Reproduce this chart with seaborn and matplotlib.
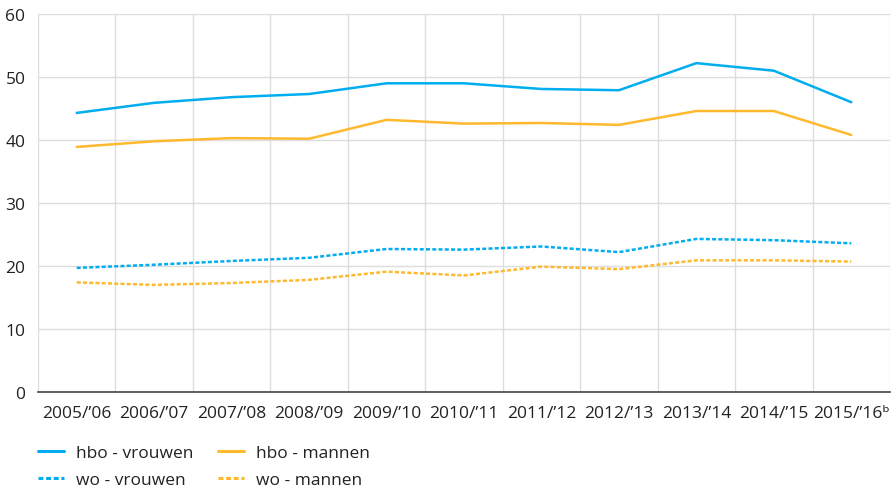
import numpy as np
import pandas as pd
import matplotlib
matplotlib.use("Agg")
import matplotlib.pyplot as plt
import seaborn as sns
from matplotlib.lines import Line2D

years = ["2005/’06", "2006/’07", "2007/’08", "2008/’09", "2009/’10", "2010/’11",
         "2011/’12", "2012/’13", "2013/’14", "2014/’15", "2015/’16ᵇ"]
hbo_vrouwen = [44.3, 45.9, 46.8, 47.3, 49.0, 49.0, 48.1, 47.9, 52.2, 51.0, 46.0]
hbo_mannen = [38.9, 39.8, 40.3, 40.2, 43.2, 42.6, 42.7, 42.4, 44.6, 44.6, 40.8]
wo_vrouwen = [19.7, 20.2, 20.8, 21.3, 22.7, 22.6, 23.1, 22.2, 24.3, 24.1, 23.6]
wo_mannen = [17.4, 17.0, 17.3, 17.8, 19.1, 18.5, 19.9, 19.5, 20.9, 20.9, 20.7]

series = {
    "hbo - vrouwen": hbo_vrouwen,
    "hbo - mannen": hbo_mannen,
    "wo - vrouwen": wo_vrouwen,
    "wo - mannen": wo_mannen,
}
rows = []
for name, vals in series.items():
    for i, v in enumerate(vals):
        rows.append({"x": i, "value": v, "serie": name})
df = pd.DataFrame(rows)

BLUE = "#00AEEF"
ORANGE = "#FFB92E"
palette = {"hbo - vrouwen": BLUE, "hbo - mannen": ORANGE,
           "wo - vrouwen": BLUE, "wo - mannen": ORANGE}
dashes = {"hbo - vrouwen": "", "hbo - mannen": "",
          "wo - vrouwen": (1.6, 0.9), "wo - mannen": (1.6, 0.9)}

sns.set_theme(style="white")
plt.rcParams["font.family"] = ["Open Sans", "DejaVu Sans"]

FS = 12.5
fig = plt.figure(figsize=(8.93, 4.89), dpi=100)
ax = fig.add_axes([38 / 893, 1 - 393 / 489, (890 - 38) / 893, (393 - 15) / 489])

sns.lineplot(data=df, x="x", y="value", hue="serie", style="serie",
             palette=palette, dashes=dashes, linewidth=1.8, ax=ax, legend=False)

ax.set_xlim(-0.5, len(years) - 0.5)
ax.set_ylim(0, 60)
ax.set_yticks(range(0, 61, 10))
ax.set_xticks(range(len(years)))
ax.set_xticklabels(years)
ax.set_xlabel("")
ax.set_ylabel("")

# vertical grid lines between categories
ax.set_xticks(np.arange(-0.5, len(years), 1.0), minor=True)
ax.grid(True, which="minor", axis="x", color="#DDDDDD", linewidth=1.0)
ax.grid(True, which="major", axis="y", color="#DDDDDD", linewidth=1.0)
ax.grid(False, which="major", axis="x")
ax.tick_params(axis="x", which="minor", length=0)
ax.set_axisbelow(True)

for s in ["top", "right", "left"]:
    ax.spines[s].set_visible(False)
ax.spines["bottom"].set_color("#444444")
ax.spines["bottom"].set_linewidth(1.2)
ax.tick_params(axis="x", which="major", length=5, width=1.2, color="#444444",
               direction="out", labelsize=FS, labelcolor="#222222", pad=4)
ax.tick_params(axis="y", length=0, labelsize=FS, labelcolor="#222222", pad=9)

handles = [
    Line2D([], [], color=BLUE, lw=2.2),
    Line2D([], [], color=BLUE, lw=2.2, linestyle=(0, (1.6, 0.9))),
    Line2D([], [], color=ORANGE, lw=2.2),
    Line2D([], [], color=ORANGE, lw=2.2, linestyle=(0, (1.6, 0.9))),
]
labels = ["hbo - vrouwen", "wo - vrouwen", "hbo - mannen", "wo - mannen"]
fig.legend(handles, labels, ncol=2, loc="upper left",
           bbox_to_anchor=(33 / 893, 1 - 441 / 489), frameon=False,
           fontsize=FS, handlelength=1.5, handletextpad=0.7,
           columnspacing=1.4, labelspacing=0.6, labelcolor="#222222",
           borderaxespad=0, borderpad=0.3)

fig.savefig("out.png", dpi=100)
